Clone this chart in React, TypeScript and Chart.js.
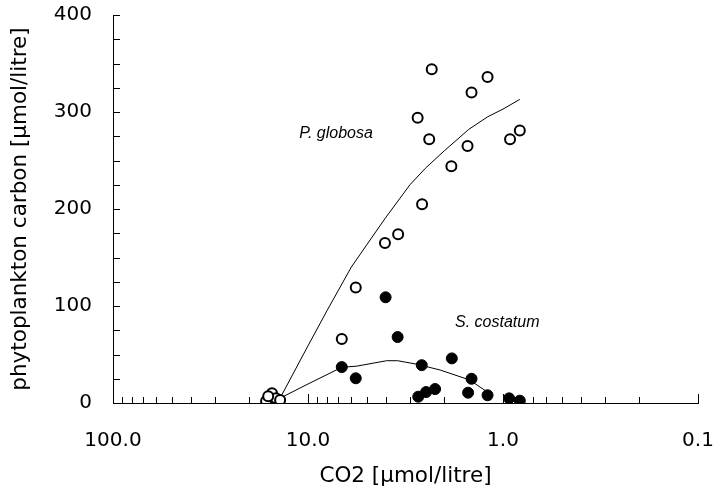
import React, { useEffect, useRef } from "react";
import { Chart, registerables } from "chart.js";

Chart.register(...registerables);

const FONT = "'DejaVu Sans', Verdana, sans-serif";
const LABEL_FONT = "italic 16px 'Liberation Sans', Arial, sans-serif";

// P. globosa observations (open circles)
const pgCO2 = [2.32, 1.2, 1.45, 2.74, 2.39, 0.82, 0.92, 1.52, 1.84, 2.6, 3.45, 4.03, 5.69, 6.71, 15.3, 16.4, 14.6, 13.9, 16.0];
const pgCarbon = [344, 336, 320, 294, 272, 281, 272, 265, 244, 205, 174, 165, 119, 66, 10, 2, 5, 3, 7];

// S. costatum observations (filled circles)
const scCO2 = [4.0, 3.47, 6.71, 5.69, 2.61, 1.83, 1.45, 1.51, 1.2, 2.72, 2.48, 2.23, 0.93, 0.82];
const scCarbon = [109, 68, 37, 25.5, 39, 46, 25, 10.6, 8, 6.5, 11.3, 14.4, 4.8, 2.4];

// Fitted curves
const pgFitCO2 = [13.9, 10, 8, 6, 5, 4, 3, 2.5, 2, 1.5, 1.2, 1.0, 0.82];
const pgFitCarbon = [5, 59, 95, 140, 163, 191, 225, 242, 260, 282, 295, 303, 313];
const scFitCO2 = [13.9, 10, 6.71, 5.62, 3.95, 3.47, 2.77, 2.1, 1.48, 1.21];
const scFitCarbon = [5, 19.6, 36.8, 38, 43.6, 43.6, 40, 34, 23.7, 11.6];

// Axis settings
const xMin = 0.1;
const xMax = 100;
const yMin = 0;
const yMax = 400;
const yStep = 100;
const yMinorStep = 25;

// Species labels (data coordinates)
const speciesNames = ["P. globosa", "S. costatum"];
const speciesLabelCO2 = [7.18, 1.07];
const speciesLabelCarbon = [278, 82.5];

const toXY = (xs: number[], ys: number[]) => xs.map((x, i) => ({ x, y: ys[i] }));

export default function App() {
  const ref = useRef<HTMLCanvasElement>(null);

  useEffect(() => {
    if (!ref.current) return;

    const innerTicks = {
      id: "innerTicks",
      beforeDatasetsDraw(chart: any) {
        const { ctx, scales, chartArea } = chart;
        const x = scales.x;
        const y = scales.y;
        ctx.save();
        ctx.strokeStyle = "#000";
        ctx.lineWidth = 1;
        ctx.beginPath();
        for (let e = -1; e <= 2; e++) {
          for (let m = 1; m <= 9; m++) {
            const v = m * Math.pow(10, e);
            if (v < xMin - 1e-9 || v > xMax + 1e-9) continue;
            const px = Math.round(x.getPixelForValue(v)) + 0.5;
            const len = m === 1 ? 9 : 6;
            ctx.moveTo(px, chartArea.bottom);
            ctx.lineTo(px, chartArea.bottom - len);
          }
        }
        for (let v = yMin + yMinorStep; v <= yMax; v += yMinorStep) {
          const py = Math.round(y.getPixelForValue(v)) + 0.5;
          ctx.moveTo(chartArea.left, py);
          ctx.lineTo(chartArea.left + 7, py);
        }
        ctx.stroke();
        ctx.restore();
      },
      afterDatasetsDraw(chart: any) {
        const { ctx, scales } = chart;
        ctx.save();
        ctx.fillStyle = "#000";
        ctx.font = LABEL_FONT;
        ctx.textAlign = "center";
        ctx.textBaseline = "middle";
        speciesNames.forEach((t, i) => {
          ctx.fillText(
            t,
            scales.x.getPixelForValue(speciesLabelCO2[i]),
            scales.y.getPixelForValue(speciesLabelCarbon[i])
          );
        });
        ctx.restore();
      },
    };

    const chart = new Chart(ref.current, {
      type: "scatter",
      data: {
        datasets: [
          {
            label: "P. globosa",
            data: toXY(pgCO2, pgCarbon),
            pointRadius: 5,
            pointBorderWidth: 2,
            pointBackgroundColor: "#fff",
            pointBorderColor: "#000",
          },
          {
            label: "S. costatum",
            data: toXY(scCO2, scCarbon),
            pointRadius: 5.5,
            pointBorderWidth: 1,
            pointBackgroundColor: "#000",
            pointBorderColor: "#000",
          },
          {
            label: "P. globosa fit",
            data: toXY(pgFitCO2, pgFitCarbon),
            showLine: true,
            pointRadius: 0,
            borderColor: "#000",
            borderWidth: 1,
          },
          {
            label: "S. costatum fit",
            data: toXY(scFitCO2, scFitCarbon),
            showLine: true,
            pointRadius: 0,
            borderColor: "#000",
            borderWidth: 1,
          },
        ],
      },
      options: {
        responsive: false,
        animation: false,
        layout: { padding: { left: 0, top: 15, right: 16, bottom: 0 } },
        plugins: { legend: { display: false }, tooltip: { enabled: false } },
        scales: {
          x: {
            type: "logarithmic",
            reverse: true,
            min: xMin,
            max: xMax,
            grid: { display: true, drawOnChartArea: false, drawTicks: false },
            border: { display: true, color: "#000", width: 1 },
            ticks: {
              autoSkip: false,
              maxRotation: 0,
              color: "#000",
              padding: 26,
              font: { family: FONT, size: 20 },
              callback: (value: any) => {
                const v = Number(value);
                const l = Math.log10(v);
                return Math.abs(l - Math.round(l)) < 1e-6 ? v.toFixed(1) : "";
              },
            },
            title: {
              display: true,
              text: "CO2 [µmol/litre]",
              color: "#000",
              font: { family: FONT, size: 21.5 },
              padding: { top: 0, bottom: 9 },
            },
            afterFit: (s: any) => {
              s.height = 95;
              s.paddingLeft = 0;
              s.paddingRight = 0;
            },
          },
          y: {
            type: "linear",
            min: yMin,
            max: yMax,
            grid: { display: true, drawOnChartArea: false, drawTicks: false },
            border: { display: true, color: "#000", width: 1 },
            ticks: {
              stepSize: yStep,
              color: "#000",
              padding: 21,
              font: { family: FONT, size: 20 },
            },
            title: {
              display: true,
              text: "phytoplankton carbon [µmol/litre]",
              color: "#000",
              font: { family: FONT, size: 21.5 },
              padding: { top: 8, bottom: 0 },
            },
            afterFit: (s: any) => {
              s.width = 113;
              s.paddingTop = 0;
              s.paddingBottom = 0;
            },
          },
        },
      },
      plugins: [innerTicks],
    } as any);

    return () => chart.destroy();
  }, []);

  return (
    <div style={{ position: "absolute", left: 0, top: 0, width: 714, height: 498 }}>
      <canvas ref={ref} width={714} height={498} style={{ display: "block" }} />
    </div>
  );
}
